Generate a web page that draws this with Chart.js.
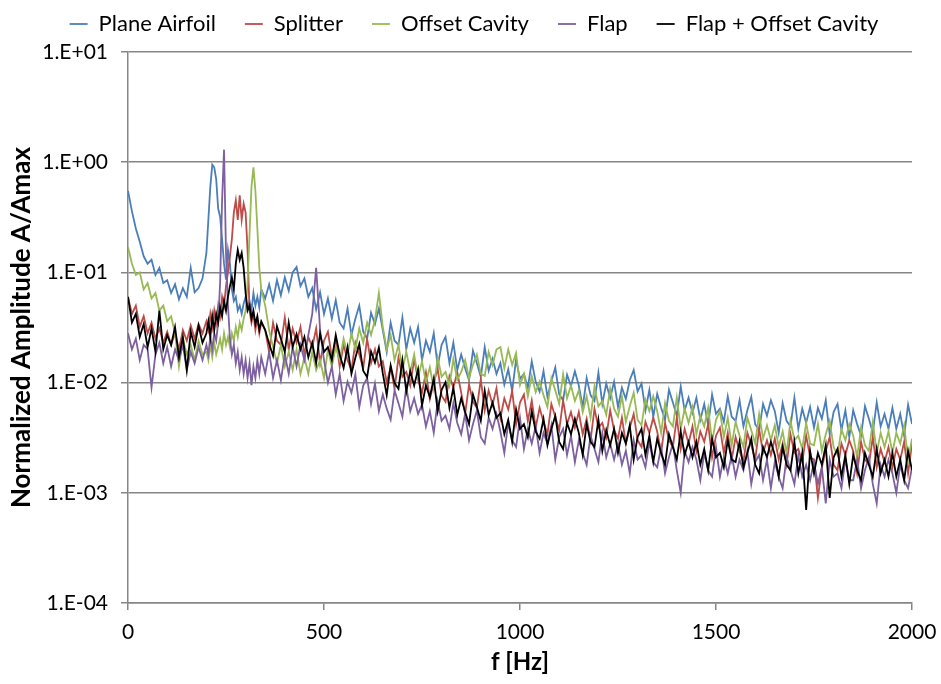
<!DOCTYPE html>
<html><head><meta charset="utf-8">
<script src="https://cdn.jsdelivr.net/npm/chart.js@4"></script>
<style>html,body{margin:0;padding:0;background:#fff}#wrap{width:941px;height:684px}</style>
</head><body><div id="wrap"><canvas id="c" width="941" height="684"></canvas></div>
<script>
// Frequency grid [Hz]
const freqs = [
0,10,20,30,40,50,60,70,80,90,100,110,120,130,140,150,160,170,180,190,
200,205,210,215,220,225,230,235,240,245,250,255,260,265,270,275,280,285,290,295,300,305,310,315,320,325,330,335,340,
350,360,370,380,390,400,410,420,430,440,
450,460,470,480,490,500,510,520,530,540,
550,560,570,580,590,600,610,620,630,640,
650,660,670,680,690,700,710,720,730,740,
750,760,770,780,790,800,810,820,830,840,
850,860,870,880,890,900,910,920,930,940,
950,960,970,980,990,1000,1010,1020,1030,1040,
1050,1060,1070,1080,1090,1100,1110,1120,1130,1140,
1150,1160,1170,1180,1190,1200,1210,1220,1230,1240,
1250,1260,1270,1280,1290,1300,1310,1320,1330,1340,
1350,1360,1370,1380,1390,1400,1410,1420,1430,1440,
1450,1460,1470,1480,1490,1500,1510,1520,1530,1540,
1550,1560,1570,1580,1590,1600,1610,1620,1630,1640,
1650,1660,1670,1680,1690,1700,1710,1720,1730,1740,
1750,1760,1770,1780,1790,1800,1810,1820,1830,1840,
1850,1860,1870,1880,1890,1900,1910,1920,1930,1940,
1950,1960,1970,1980,1990,2000];

const planeAirfoil = [
0.55,0.36,0.25,0.19,0.14,0.12,0.13,0.095,0.11,0.08,0.085,0.065,0.078,0.057,0.072,0.06,0.11,0.066,0.072,0.088,
0.15,0.3,0.6,0.95,0.9,0.7,0.38,0.32,0.2,0.12,0.086,0.16,0.12,0.07,0.055,0.06,0.045,0.05,0.042,0.052,0.06,0.048,0.055,0.045,0.065,0.05,0.06,0.048,0.07,
0.058,0.078,0.055,0.085,0.062,0.09,0.068,0.1,0.112,0.075,
0.088,0.06,0.072,0.046,0.066,0.042,0.058,0.038,0.056,0.035,
0.031,0.047,0.027,0.038,0.05,0.029,0.025,0.043,0.034,0.047,
0.03,0.019,0.035,0.024,0.022,0.039,0.02,0.031,0.023,0.032,
0.016,0.024,0.019,0.028,0.014,0.022,0.026,0.015,0.023,0.013,
0.018,0.0135,0.0105,0.0195,0.015,0.0113,0.021,0.0128,0.0165,0.012,
0.015,0.0096,0.0132,0.0084,0.0162,0.0108,0.012,0.009,0.0156,0.0102,
0.0083,0.0127,0.0074,0.0103,0.0137,0.0078,0.0069,0.0118,0.0093,0.0127,
0.0094,0.006,0.011,0.0077,0.0068,0.0123,0.0064,0.0098,0.0072,0.0102,
0.006,0.009,0.0071,0.0105,0.013,0.0083,0.0098,0.0056,0.0086,0.0049,
0.0079,0.0059,0.0046,0.0086,0.0066,0.005,0.0092,0.0056,0.0073,0.0053,
0.0073,0.0046,0.0064,0.0041,0.0078,0.0052,0.0058,0.0044,0.0075,0.0049,
0.0045,0.0069,0.004,0.0056,0.0074,0.0042,0.0037,0.0064,0.005,0.0069,
0.0055,0.0035,0.0065,0.0045,0.004,0.0073,0.0038,0.0058,0.0043,0.006,
0.0039,0.0059,0.0047,0.0069,0.0034,0.0054,0.0064,0.0037,0.0056,0.0032,
0.0056,0.0042,0.0033,0.0061,0.0047,0.0035,0.0066,0.004,0.0052,0.0038,
0.0059,0.0038,0.0052,0.0033,0.0063,0.0042];

const splitter = [
0.06,0.042,0.05,0.032,0.04,0.028,0.035,0.025,0.031,0.023,0.029,0.022,0.028,0.02,0.03,0.024,0.033,0.025,0.034,0.028,
0.036,0.03,0.042,0.032,0.045,0.035,0.05,0.04,0.06,0.05,0.075,0.1,0.14,0.2,0.35,0.45,0.3,0.5,0.3,0.42,0.35,0.16,0.045,0.035,0.042,0.03,0.038,0.028,0.035,
0.03,0.019,0.035,0.024,0.022,0.039,0.02,0.031,0.023,0.032,
0.018,0.026,0.021,0.031,0.015,0.024,0.029,0.017,0.025,0.014,
0.022,0.016,0.013,0.023,0.018,0.0135,0.025,0.015,0.02,0.014,
0.0156,0.01,0.0138,0.0088,0.0169,0.0113,0.0125,0.0094,0.0163,0.0106,
0.0081,0.0124,0.0071,0.01,0.0133,0.0076,0.0067,0.0114,0.009,0.0124,
0.0081,0.0052,0.0096,0.0067,0.0059,0.0107,0.0056,0.0085,0.0063,0.0089,
0.0048,0.0072,0.0057,0.0084,0.0042,0.0066,0.0078,0.0045,0.0069,0.0039,
0.0059,0.0044,0.0034,0.0064,0.0049,0.0037,0.0069,0.0042,0.0054,0.0039,
0.0054,0.0034,0.0047,0.003,0.0058,0.0039,0.0043,0.0032,0.0056,0.0037,
0.0031,0.0048,0.0028,0.0039,0.0052,0.003,0.0026,0.0044,0.0035,0.0048,
0.0036,0.0023,0.0043,0.003,0.0026,0.0048,0.0025,0.0038,0.0028,0.004,
0.0024,0.0036,0.0029,0.0042,0.0021,0.0033,0.0039,0.0023,0.0035,0.002,
0.0032,0.0024,0.0019,0.0035,0.0027,0.002,0.0038,0.0023,0.003,0.0022,
0.0031,0.002,0.0028,0.0018,0.0034,0.0023,0.0025,0.0019,0.0033,0.0021,
0.002,0.0009,0.0017,0.0024,0.0032,0.0018,0.0016,0.0028,0.0022,0.003,
0.0024,0.0015,0.0029,0.002,0.0018,0.0032,0.0017,0.0025,0.0019,0.0026,
0.0017,0.0025,0.002,0.0029,0.0015,0.0028];

const offsetCavity = [
0.17,0.12,0.095,0.1,0.07,0.08,0.058,0.065,0.045,0.05,0.036,0.04,0.028,0.014,0.025,0.018,0.022,0.016,0.024,0.018,
0.019,0.016,0.022,0.017,0.023,0.018,0.021,0.025,0.02,0.028,0.022,0.026,0.021,0.028,0.024,0.032,0.026,0.035,0.03,0.038,0.045,0.08,0.22,0.6,0.9,0.55,0.25,0.11,0.07,
0.05,0.03,0.021,0.015,0.022,0.014,0.019,0.013,0.02,0.012,
0.017,0.012,0.019,0.013,0.016,0.011,0.02,0.014,0.021,0.016,
0.025,0.018,0.028,0.02,0.031,0.023,0.035,0.027,0.037,0.065,
0.032,0.02,0.027,0.016,0.022,0.013,0.019,0.0125,0.018,0.011,
0.0156,0.01,0.0138,0.0088,0.0169,0.0113,0.0125,0.0094,0.0163,0.0106,
0.0125,0.016,0.011,0.0145,0.018,0.012,0.0115,0.019,0.0145,0.02,
0.021,0.0135,0.02,0.0145,0.0185,0.0095,0.012,0.0075,0.0115,0.0082,
0.0102,0.0077,0.006,0.011,0.0085,0.0064,0.0119,0.0072,0.0094,0.0068,
0.0085,0.0054,0.0075,0.0048,0.0092,0.0061,0.0068,0.0051,0.0088,0.0058,
0.0049,0.0075,0.0044,0.0061,0.0081,0.0046,0.0041,0.007,0.0055,0.0075,
0.0055,0.0035,0.0065,0.0045,0.004,0.0073,0.0038,0.0058,0.0043,0.006,
0.0034,0.005,0.004,0.0059,0.0029,0.0046,0.0055,0.0032,0.0048,0.0027,
0.0044,0.0033,0.0026,0.0048,0.0037,0.0028,0.0052,0.0031,0.0041,0.003,
0.0041,0.0026,0.0036,0.0023,0.0045,0.003,0.0033,0.0025,0.0043,0.0028,
0.0027,0.0042,0.0024,0.0034,0.0045,0.0026,0.0022,0.0038,0.003,0.0042,
0.0033,0.0021,0.0039,0.0027,0.0024,0.0044,0.0023,0.0035,0.0026,0.0036,
0.0023,0.0035,0.0028,0.0041,0.002,0.0031];

const flap = [
0.028,0.02,0.025,0.016,0.022,0.02,0.009,0.018,0.023,0.015,0.021,0.014,0.02,0.016,0.022,0.013,0.019,0.015,0.021,0.016,
0.022,0.018,0.026,0.02,0.028,0.024,0.035,0.08,0.45,1.3,0.15,0.05,0.025,0.018,0.022,0.015,0.019,0.013,0.017,0.012,0.016,0.011,0.015,0.0095,0.014,0.011,0.016,0.012,0.017,
0.012,0.019,0.011,0.016,0.0105,0.018,0.012,0.021,0.014,0.022,
0.016,0.027,0.042,0.11,0.03,0.016,0.01,0.014,0.0078,0.012,
0.0068,0.0102,0.0081,0.0119,0.006,0.0094,0.011,0.0064,0.0098,0.0055,
0.0078,0.0058,0.0046,0.0085,0.0065,0.0049,0.0091,0.0055,0.0072,0.0052,
0.0063,0.004,0.0055,0.0035,0.0068,0.0045,0.005,0.0038,0.0065,0.0043,
0.0034,0.0052,0.003,0.0042,0.0056,0.0032,0.0028,0.0048,0.0038,0.0052,
0.0036,0.0023,0.0043,0.003,0.0026,0.0048,0.0025,0.0038,0.0028,0.004,
0.0023,0.0035,0.0028,0.0041,0.002,0.0032,0.0038,0.0022,0.0033,0.0019,
0.003,0.0023,0.0018,0.0033,0.0025,0.0019,0.0035,0.0021,0.0028,0.002,
0.0028,0.0018,0.0024,0.0015,0.003,0.002,0.0022,0.0017,0.0029,0.0019,
0.0017,0.0026,0.0015,0.0021,0.0028,0.0016,0.001,0.0024,0.0019,0.0026,
0.002,0.0013,0.0023,0.0016,0.0014,0.0026,0.0014,0.0021,0.0015,0.0022,
0.0014,0.002,0.0016,0.0024,0.0012,0.0019,0.0022,0.0013,0.002,0.0011,
0.0019,0.0014,0.0011,0.0021,0.0016,0.0012,0.0022,0.0014,0.0018,0.0013,
0.0019,0.0012,0.0017,0.0008,0.002,0.0014,0.0015,0.0011,0.002,0.0013,
0.0013,0.002,0.0011,0.0016,0.0021,0.0012,0.0008,0.0018,0.0014,0.002,
0.0015,0.001,0.0018,0.0013,0.0011,0.0017];

const flapOffsetCavity = [
0.06,0.035,0.042,0.026,0.034,0.021,0.031,0.019,0.045,0.02,0.027,0.022,0.032,0.017,0.026,0.013,0.029,0.021,0.033,0.023,
0.028,0.036,0.026,0.04,0.03,0.042,0.035,0.048,0.04,0.055,0.045,0.06,0.075,0.09,0.07,0.12,0.16,0.13,0.15,0.11,0.065,0.045,0.05,0.038,0.045,0.034,0.04,0.03,0.036,
0.03,0.0225,0.0175,0.0325,0.025,0.019,0.035,0.021,0.0275,0.02,
0.026,0.017,0.023,0.015,0.028,0.019,0.021,0.016,0.027,0.018,
0.0136,0.021,0.012,0.0168,0.0224,0.0128,0.0112,0.0192,0.0152,0.0208,
0.0121,0.0077,0.0143,0.0099,0.0088,0.016,0.0083,0.0127,0.0094,0.0132,
0.0062,0.0094,0.0074,0.0109,0.0055,0.0086,0.0101,0.0059,0.009,0.0051,
0.0072,0.0054,0.0042,0.0078,0.006,0.0045,0.0084,0.0051,0.0066,0.0048,
0.0053,0.0034,0.0046,0.0029,0.0057,0.0038,0.0042,0.0032,0.0055,0.0036,
0.0031,0.0047,0.0027,0.0038,0.005,0.0029,0.0025,0.0043,0.0034,0.0047,
0.0035,0.0022,0.0042,0.0029,0.0026,0.0046,0.0024,0.0037,0.0027,0.0038,
0.0023,0.0035,0.0028,0.0041,0.002,0.0032,0.0038,0.0022,0.0033,0.0019,
0.0031,0.0023,0.0018,0.0034,0.0026,0.002,0.0036,0.0022,0.0029,0.0021,
0.0029,0.0018,0.0025,0.0016,0.0031,0.0021,0.0023,0.0017,0.003,0.002,
0.0019,0.0029,0.0017,0.0023,0.0031,0.0018,0.0015,0.0026,0.0021,0.0029,
0.0022,0.0014,0.0026,0.0018,0.0016,0.0029,0.0015,0.0023,0.0007,0.0024,
0.0015,0.0023,0.0018,0.0027,0.0009,0.0021,0.0025,0.0014,0.0022,0.0012,
0.0022,0.0016,0.0013,0.0023,0.0018,0.0014,0.0025,0.0015,0.002,0.0014,
0.0023,0.0014,0.002,0.0013,0.0024,0.0016];

const seriesNames = ['Plane Airfoil','Splitter','Offset Cavity','Flap','Flap + Offset Cavity'];
const seriesValues = [planeAirfoil, splitter, offsetCavity, flap, flapOffsetCavity];
const seriesColors = ['#4A7EBB','#BE4B48','#98B954','#7D60A0','#000000'];
const yTickValues = [1e-4,1e-3,1e-2,1e-1,1,10];

const FONT = 'Lato, "Open Sans", sans-serif';

function fmtTick(v){
  const e = Math.round(Math.log10(v));
  return '1.E' + (e < 0 ? '-' : '+') + String(Math.abs(e)).padStart(2,'0');
}

const datasets = seriesNames.map((name, i) => ({
  label: name,
  data: freqs.map((f, j) => ({x: f, y: seriesValues[i][j]})),
  borderColor: seriesColors[i],
  backgroundColor: seriesColors[i],
  borderWidth: 1.8,
  pointRadius: 0,
  tension: 0,
  fill: false,
  order: seriesNames.length - i
}));

const legendFix = {
  id: 'legendFix',
  beforeInit(chart){
    const orig = chart.legend.fit;
    chart.legend.fit = function(){ orig.call(this); this.height = 68; };
  },
  afterLayout(chart){
    chart.legend.left += 18;
    chart.legend.right += 18;
  }
};

new Chart(document.getElementById('c'), {
  type: 'line',
  data: { datasets },
  plugins: [legendFix],
  options: {
    responsive: false,
    animation: false,
    events: [],
    layout: { padding: { top: -16, right: 29, left: 0, bottom: 0 } },
    plugins: {
      legend: {
        position: 'top',
        labels: {
          usePointStyle: true,
          pointStyle: 'line',
          pointStyleWidth: 18,
          padding: 29,
          color: '#000',
          font: { family: FONT, size: 22 },
          sort: (a, b) => a.datasetIndex - b.datasetIndex
        }
      },
      tooltip: { enabled: false }
    },
    scales: {
      x: {
        type: 'linear',
        min: 0, max: 2000,
        ticks: { stepSize: 500, color: '#000', font: { family: FONT, size: 21 }, padding: 10, maxRotation: 0, callback: (v) => String(v) },
        grid: { drawOnChartArea: false, drawTicks: true, tickLength: 7, color: '#868686', lineWidth: 1.5 },
        border: { color: '#868686', width: 1.5 },
        title: { display: true, text: 'f [Hz]', color: '#000', font: { family: FONT, size: 24, weight: 'bold' }, padding: { top: 0, bottom: 7 } },
        afterFit(s){ s.height = 81; s.paddingLeft = 0; s.paddingRight = 0; }
      },
      y: {
        type: 'logarithmic',
        min: 1e-4, max: 10,
        afterBuildTicks(s){ s.ticks = yTickValues.map(v => ({ value: v, major: true })); },
        ticks: { callback: (v) => fmtTick(v), color: '#000', font: { family: FONT, size: 21 }, padding: 13, autoSkip: false },
        grid: { color: '#868686', lineWidth: 1.5, tickLength: 7 },
        border: { color: '#868686', width: 1.5 },
        title: { display: true, text: 'Normalized Amplitude A/Amax', color: '#000', font: { family: FONT, size: 26, weight: 'bold' }, padding: { top: 6, bottom: 0 } },
        afterFit(s){ s.width = 128; }
      }
    }
  }
});
</script>
</body></html>
